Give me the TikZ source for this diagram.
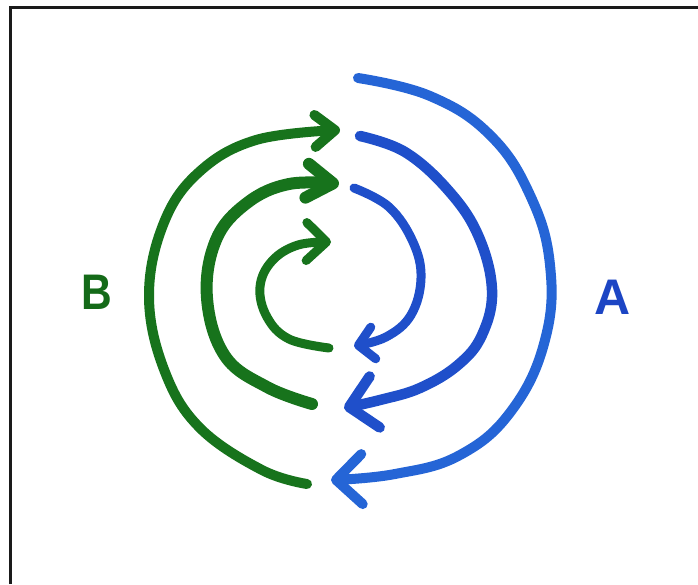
\documentclass[tikz,border=0pt]{standalone}
\usepackage{fontspec}
\setsansfont{Liberation Sans}
\usetikzlibrary{arrows.meta}
\definecolor{Frame}{HTML}{1A1A1A}
\definecolor{LoopGreen}{HTML}{17731C}
\definecolor{LabelGreen}{HTML}{146A18}
\definecolor{LoopBlue}{HTML}{1F4FCA}
\definecolor{OuterBlue}{HTML}{2565D6}
\definecolor{LabelBlue}{HTML}{1C45C4}

\begin{document}
\begin{tikzpicture}[
  x=1pt, y=-1pt,
  loop/.style={line width=#1, line cap=round, line join=round},
  bluearc/.style={loop=#1, draw=LoopBlue},
  greenarc/.style={loop=#1, draw=LoopGreen},
  tag/.style={font=\sffamily\bfseries\fontsize{50}{50}\selectfont, inner sep=0pt}
]
\useasboundingbox (0,0) rectangle (698,584);
\draw[Frame, line width=2.6pt] (10.5,584) -- (10.5,7.3) -- (698,7.3);

% A side: blue loops, outer to inner
\draw[bluearc=10pt, draw=OuterBlue, -{Straight Barb[round, length=26pt, width=50pt]}]
  plot[smooth, tension=0.7] coordinates {(358,78) (430,96) (490,135) (530,195) (550,265) (545,340) (512,410) (460,455) (395,474) (331,480)};
\draw[bluearc=10.5pt, -{Straight Barb[round, length=26pt, width=52pt]}]
  plot[smooth, tension=0.65] coordinates {(360,136) (405,152) (448,190) (478,235) (492,290) (482,335) (458,365) (420,388) (380,400) (344,408)};
\draw[bluearc=9pt, -{Straight Barb[round, length=15pt, width=32pt]}]
  plot[smooth, tension=0.65] coordinates {(354,188) (389,207) (413,242) (421,278) (411,315) (386,337) (354,346)};

% B side: green loops, outer to inner
\draw[greenarc=10pt, -{Straight Barb[round, length=20pt, width=32pt]}]
  plot[smooth, tension=0.65] coordinates {(307,484) (262,470) (200,428) (165,372) (149,298) (163,225) (198,173) (256,140) (340,130)};
\draw[greenarc=12pt, -{Straight Barb[round, length=26pt, width=34pt]}]
  plot[smooth, tension=0.65] coordinates {(312,404) (267,387) (225,356) (207,298) (216,240) (247,203) (289,184) (339,184)};
\draw[greenarc=9pt, -{Straight Barb[round, length=20pt, width=38pt]}]
  plot[smooth, tension=0.65] coordinates {(329,348) (289,339) (267,317) (260,287) (272,261) (298,245) (331,242)};

\node[tag, text=LabelGreen, xscale=0.85] (labelB) at (97,292) {B};
\node[tag, text=LabelBlue] (labelA) at (613,297) {A};
\end{tikzpicture}
\end{document}
